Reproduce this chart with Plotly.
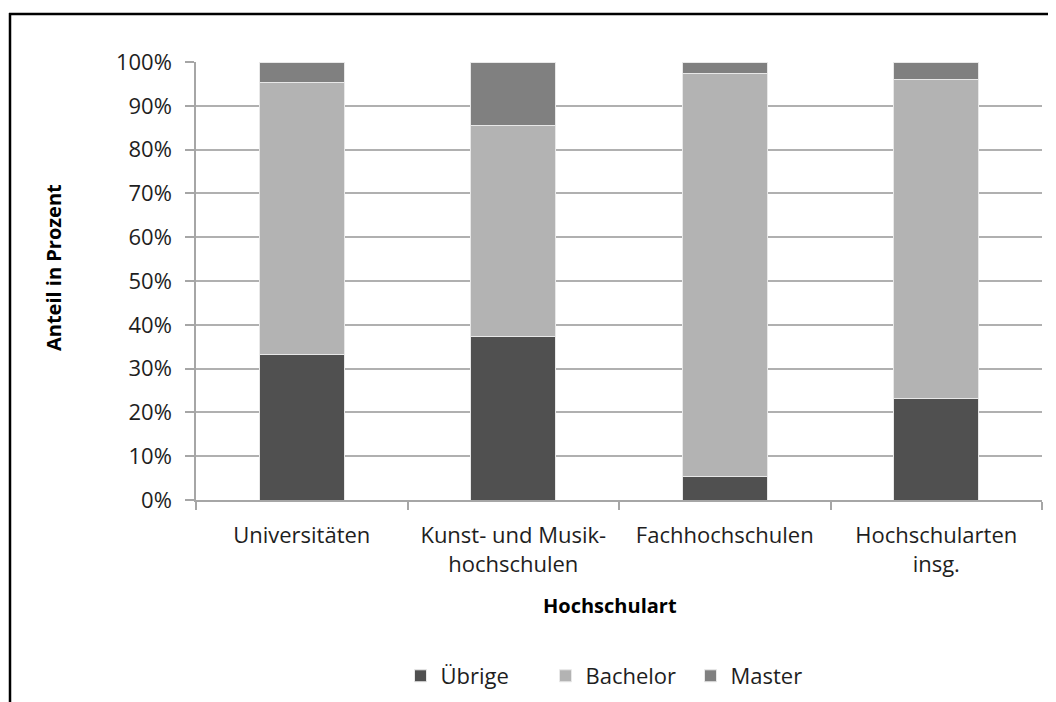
import plotly.graph_objects as go

categories = ["Universitäten", "Kunst- und Musik-<br>hochschulen", "Fachhochschulen", "Hochschularten<br>insg."]
uebrige = [33.3, 37.4, 5.4, 23.1]
bachelor = [62.1, 48.0, 92.0, 72.9]
master = [4.6, 14.6, 2.6, 4.0]
series_names = ["Übrige", "Bachelor", "Master"]
colors = ["#505050", "#b3b3b3", "#808080"]
y_ticks = [0, 10, 20, 30, 40, 50, 60, 70, 80, 90, 100]
y_tick_labels = [f"{v}%" for v in y_ticks]

# page body has an 8px default margin; figure occupies screen 8..1056 x 8..702
OFF = 8
W, H = 1056 - OFF, 702 - OFF
X0, X1, Y0, Y1 = 196, 1042, 62, 500   # plot area in screen px
L, R, T, B = X0 - OFF, (W + OFF) - X1, Y0 - OFF, (H + OFF) - Y1
pw, ph = X1 - X0, Y1 - Y0

def px(x):
    return (x - X0) / pw

def py(y):
    return (Y1 - y) / ph

FONT = "Open Sans"
TXT = "#1e1e1e"

fig = go.Figure()
for name, vals, col in zip(series_names, [uebrige, bachelor, master], colors):
    fig.add_trace(go.Bar(
        x=categories, y=vals, name=name,
        marker=dict(color=col, line=dict(color="#e8e8e8", width=1)),
    ))

fig.update_layout(
    width=W, height=H,
    barmode="stack", bargap=0.6,
    plot_bgcolor="white", paper_bgcolor="white",
    margin=dict(l=L, r=R, t=T, b=B, pad=0, autoexpand=False),
    font=dict(family=FONT, size=22, color=TXT),
    showlegend=True,
    legend=dict(orientation="h", x=px(618), xanchor="center", y=py(676), yanchor="middle",
                font=dict(size=22, family=FONT, color=TXT), traceorder="normal",
                entrywidth=100, entrywidthmode="pixels"),
    xaxis=dict(
        automargin=False,
        showline=True, linecolor="#a6a6a6", linewidth=1.5,
        ticks="outside", tickson="boundaries", ticklen=8, tickcolor="#a6a6a6", tickwidth=1.5,
        tickfont=dict(size=22, family=FONT, color=TXT),
        ticklabelstandoff=15,
        showgrid=False,
    ),
    yaxis=dict(
        automargin=False,
        range=[0, 100], tickvals=y_ticks, ticktext=y_tick_labels,
        showline=True, linecolor="#a6a6a6", linewidth=1.5,
        ticks="outside", ticklen=9, tickcolor="#a6a6a6", tickwidth=1.5,
        ticklabelstandoff=9,
        showgrid=True, gridcolor="#b0b0b0", gridwidth=1.5,
        tickfont=dict(size=22, family=FONT, color=TXT),
        zeroline=False,
    ),
    annotations=[
        dict(text="<b>Anteil in Prozent</b>", xref="paper", yref="paper",
             x=px(53), y=py(268), textangle=-90, showarrow=False,
             font=dict(size=20, family=FONT, color="#000000"),
             xanchor="center", yanchor="middle"),
        dict(text="<b>Hochschulart</b>", xref="paper", yref="paper",
             x=px(610), y=py(605), showarrow=False,
             font=dict(size=20, family=FONT, color="#000000"),
             xanchor="center", yanchor="middle"),
    ],
    shapes=[
        dict(type="line", xref="paper", yref="paper", x0=px(10), x1=px(10), y0=py(13), y1=py(710),
             line=dict(color="black", width=2.5)),
        dict(type="line", xref="paper", yref="paper", x0=px(9), x1=px(1060), y0=py(14), y1=py(14),
             line=dict(color="black", width=2.5)),
    ],
)

fig.write_html("out.html")
